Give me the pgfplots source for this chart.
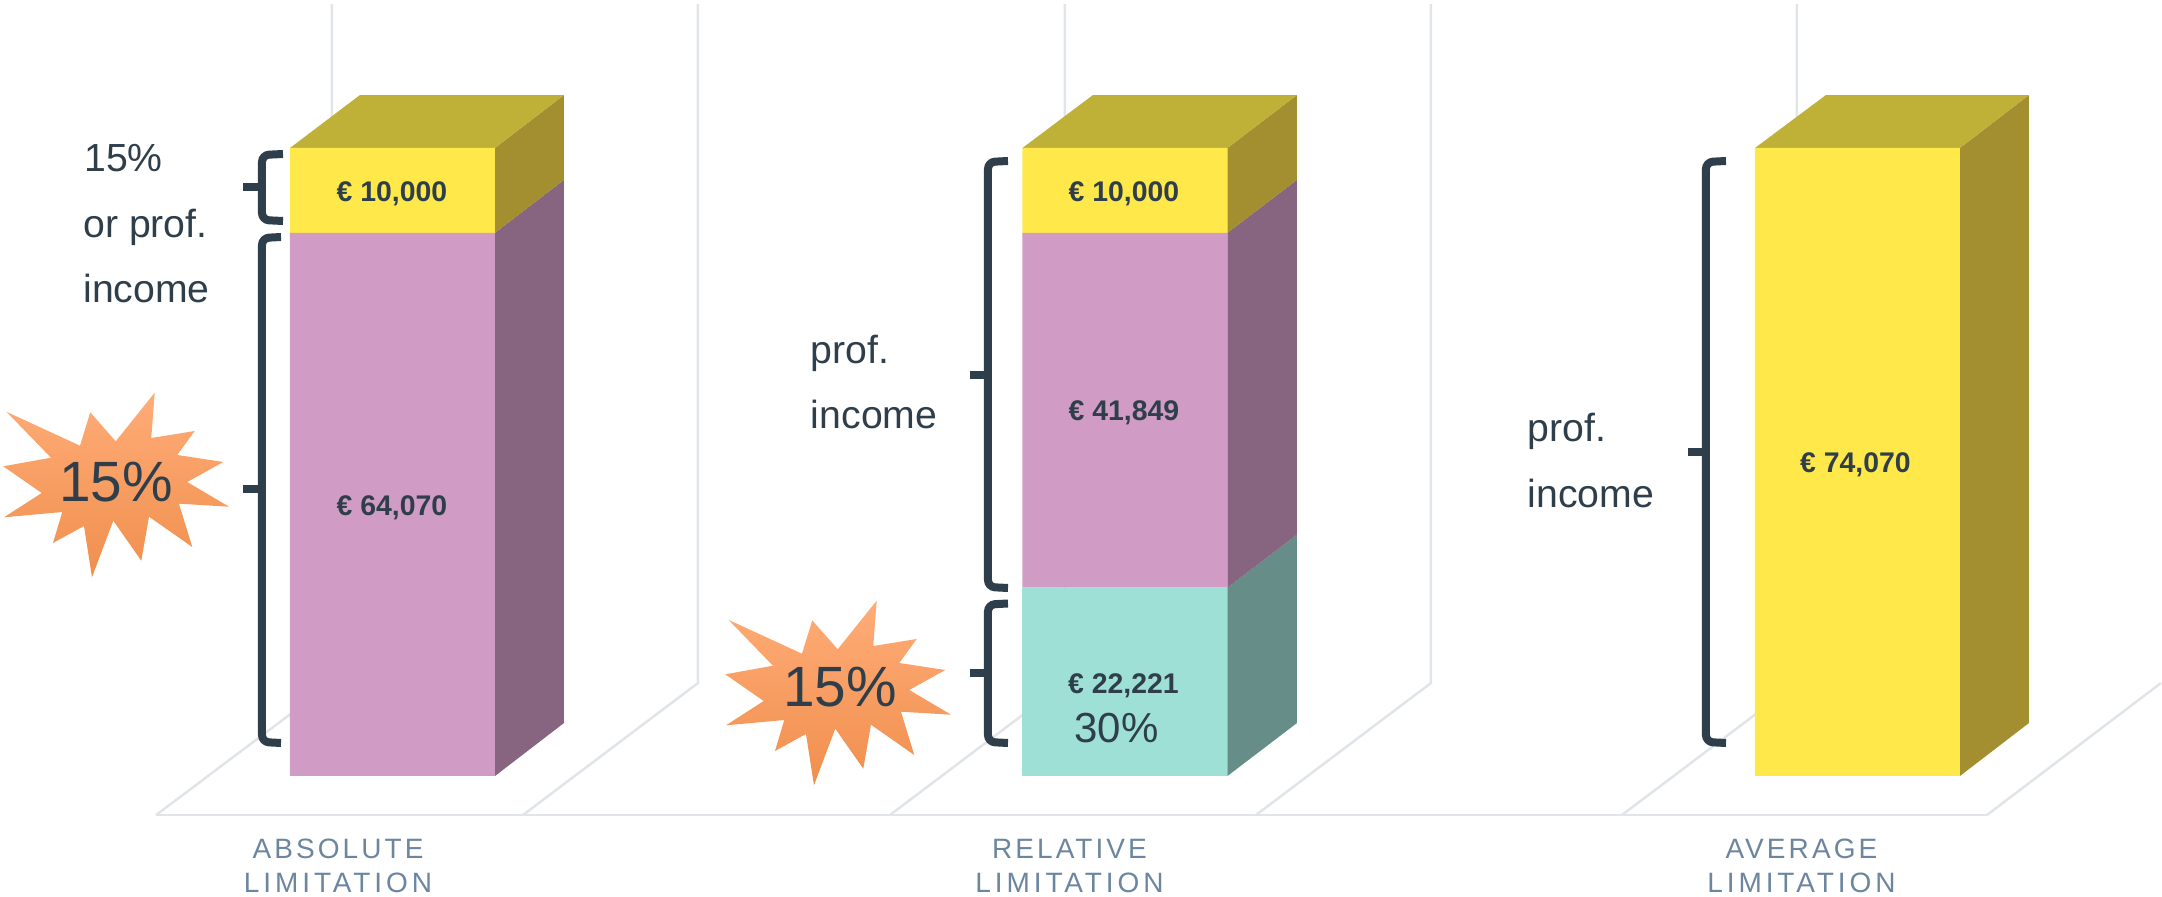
\documentclass[border=0pt]{standalone}
\usepackage{fontspec}
\setmainfont{Liberation Sans}
\newfontfamily\capsfont[LetterSpace=11]{Liberation Sans}
\newfontfamily\capswide[LetterSpace=14]{Liberation Sans}
\usepackage{pgfplots}
\pgfplotsset{compat=1.18}

\definecolor{ink}{HTML}{2F3E4B}
\definecolor{capblue}{HTML}{6C86A0}
\definecolor{wall}{HTML}{E1E5E9}
\definecolor{yfront}{HTML}{FFE94A}
\definecolor{ytop}{HTML}{BFB038}
\definecolor{yside}{HTML}{A38F2F}
\definecolor{pfront}{HTML}{D09CC5}
\definecolor{pside}{HTML}{87647F}
\definecolor{tfront}{HTML}{9FE0D6}
\definecolor{tside}{HTML}{668D87}
\definecolor{burstt}{HTML}{FFAC78}
\definecolor{burstm}{HTML}{FFA165}
\definecolor{burstb}{HTML}{F08F4D}

% 1 px of the picture = 0.5pt
\pgfplotsset{
    base/.style={at={(0,0)}, anchor=south west, scale only axis, width=1081pt, height=448.5pt,
        hide axis, xmin=0, xmax=2162, no markers},
    px/.style={base, y dir=reverse, ymin=0, ymax=897},
    euro/.style={base, ymin=-14271, ymax=91526},
    line/.style={wall, line width=1.25pt},
    face/.style={draw=none, fill=#1},
    brace/.style={ink, line width=4pt, rounded corners=3.5pt},
    nub/.style={ink, line width=4pt},
    burst/.style={draw=none, shade, top color=burstt, middle color=burstm, bottom color=burstb},
}

\newcommand{\sz}[1]{\fontsize{#1}{#1}\selectfont}

\begin{document}
\begin{tikzpicture}
\useasboundingbox (0,0) rectangle (1081pt,448.5pt);

% back walls and floor
\begin{axis}[px]
\addplot[line] coordinates {(156,815)(1987,815)};
\addplot[line] coordinates {(332,4)(332,683)(156,815)};
\addplot[line] coordinates {(698,4)(698,683)(523,815)};
\addplot[line] coordinates {(1065,4)(1065,683)(890,815)};
\addplot[line] coordinates {(1431,4)(1431,683)(1256,815)};
\addplot[line] coordinates {(1797,4)(1797,683)(1622,815)};
\addplot[line] coordinates {(2161,683)(1987,815)};
\end{axis}

% side and top faces, in euro, depth = 6250
\begin{axis}[euro]
\addplot[face=pside] coordinates {(495,0)(564,6250)(564,70320)(495,64070)} --cycle;
\addplot[face=yside] coordinates {(495,64070)(564,70320)(564,80320)(495,74070)} --cycle;
\addplot[face=ytop] coordinates {(290,74070)(360,80320)(564,80320)(495,74070)} --cycle;

\addplot[face=tside] coordinates {(1227.5,0)(1297,6250)(1297,28471)(1227.5,22221)} --cycle;
\addplot[face=pside] coordinates {(1227.5,22221)(1297,28471)(1297,70320)(1227.5,64070)} --cycle;
\addplot[face=yside] coordinates {(1227.5,64070)(1297,70320)(1297,80320)(1227.5,74070)} --cycle;
\addplot[face=ytop] coordinates {(1022.5,74070)(1093,80320)(1297,80320)(1227.5,74070)} --cycle;

\addplot[face=yside] coordinates {(1960,0)(2029,6250)(2029,80320)(1960,74070)} --cycle;
\addplot[face=ytop] coordinates {(1755,74070)(1826,80320)(2029,80320)(1960,74070)} --cycle;
\end{axis}

% front faces
\begin{axis}[euro, ybar stacked, bar width=205]
\addplot[face=tfront] coordinates {(392.5,0)(1125,22221)(1857.5,0)};
\addplot[face=pfront] coordinates {(392.5,64070)(1125,41849)(1857.5,0)};
\addplot[face=yfront] coordinates {(392.5,10000)(1125,10000)(1857.5,74070)};
\end{axis}

% annotations, in picture pixels
\begin{axis}[px]
\addplot[burst] coordinates {(154.7,392.7)(151.3,438)(194.7,431)(177.3,455)(223.3,462)(187.3,482)(229,506.7)(179,503.7)(192.3,547)(149,516.7)(141.3,560.7)(113.3,520.7)(92,577.3)(84,526)(53,543)(62.3,512)(4,517.3)(41.7,493)(3.3,466.3)(51,457.7)(6.3,411.7)(80,445.7)(90.3,412.3)(115.7,441.3)} --cycle;
\addplot[burst] coordinates {(876.7,600.7)(873.3,646)(916.7,639)(899.3,663)(945.3,670)(909.3,690)(951,714.7)(901,711.7)(914.3,755)(871,724.7)(863.3,768.7)(835.3,728.7)(814,785.3)(806,734)(775,751)(784.3,720)(726,725.3)(763.7,701)(725.3,674.3)(773,665.7)(728.3,619.7)(802,653.7)(812.3,620.3)(837.7,649.3)} --cycle;

\addplot[brace] coordinates {(283,154)(262,155)(262,220)(283,221)};
\addplot[nub] coordinates {(243,187.5)(262,187.5)};
\addplot[brace] coordinates {(281,237)(262,238)(262,742)(281,743)};
\addplot[nub] coordinates {(243,489)(262,489)};
\addplot[brace] coordinates {(1008,161)(988,162)(988,587)(1008,588)};
\addplot[nub] coordinates {(970,375)(988,375)};
\addplot[brace] coordinates {(1008,603.5)(988,604.5)(988,742)(1008,743)};
\addplot[nub] coordinates {(970,673)(988,673)};
\addplot[brace] coordinates {(1726,161)(1706,162)(1706,742)(1726,743)};
\addplot[nub] coordinates {(1688,452)(1706,452)};

\begin{scope}[every node/.style={text=ink, inner sep=0pt}]
\node[anchor=base west, font=\sz{19.6}] at (axis cs:84,171.5) {15\%};
\node[anchor=base west, font=\sz{19.6}] at (axis cs:83,238) {or prof.};
\node[anchor=base west, font=\sz{19.6}] at (axis cs:83,303) {income};
\node[anchor=base west, font=\sz{19.6}] at (axis cs:810.6,363.5) {prof.};
\node[anchor=base west, font=\sz{19.6}] at (axis cs:810.6,428.5) {income};
\node[anchor=base west, font=\sz{19.6}] at (axis cs:1527.4,442) {prof.};
\node[anchor=base west, font=\sz{19.6}] at (axis cs:1527.4,507.5) {income};
\node[anchor=base west, font=\sz{21}] at (axis cs:1074,742.5) {30\%};
\node[anchor=base west, font=\sz{28.4}] at (axis cs:59,502) {15\%};
\node[anchor=base west, font=\sz{28.4}] at (axis cs:783,706.5) {15\%};
\node[anchor=base, font=\sz{14.2}\bfseries] at (axis cs:392,202) {€ 10,000};
\node[anchor=base, font=\sz{14.2}\bfseries] at (axis cs:392,516) {€ 64,070};
\node[anchor=base, font=\sz{14.2}\bfseries] at (axis cs:1124,202) {€ 10,000};
\node[anchor=base, font=\sz{14.2}\bfseries] at (axis cs:1124,421) {€ 41,849};
\node[anchor=base, font=\sz{14.2}\bfseries] at (axis cs:1123.5,693) {€ 22,221};
\node[anchor=base, font=\sz{14.2}\bfseries] at (axis cs:1855.5,473) {€ 74,070};
\end{scope}

\begin{scope}[every node/.style={text=capblue, inner sep=0pt, anchor=base}]
\node[font=\capsfont\sz{14}] at (axis cs:338,858) {ABSOLUTE};
\node[font=\capswide\sz{14}] at (axis cs:338,892) {LIMITATION};
\node[font=\capsfont\sz{14}] at (axis cs:1069.5,858) {RELATIVE};
\node[font=\capswide\sz{14}] at (axis cs:1069.5,892) {LIMITATION};
\node[font=\capsfont\sz{14}] at (axis cs:1801.5,858) {AVERAGE};
\node[font=\capswide\sz{14}] at (axis cs:1801.5,892) {LIMITATION};
\end{scope}
\end{axis}
\end{tikzpicture}
\end{document}
